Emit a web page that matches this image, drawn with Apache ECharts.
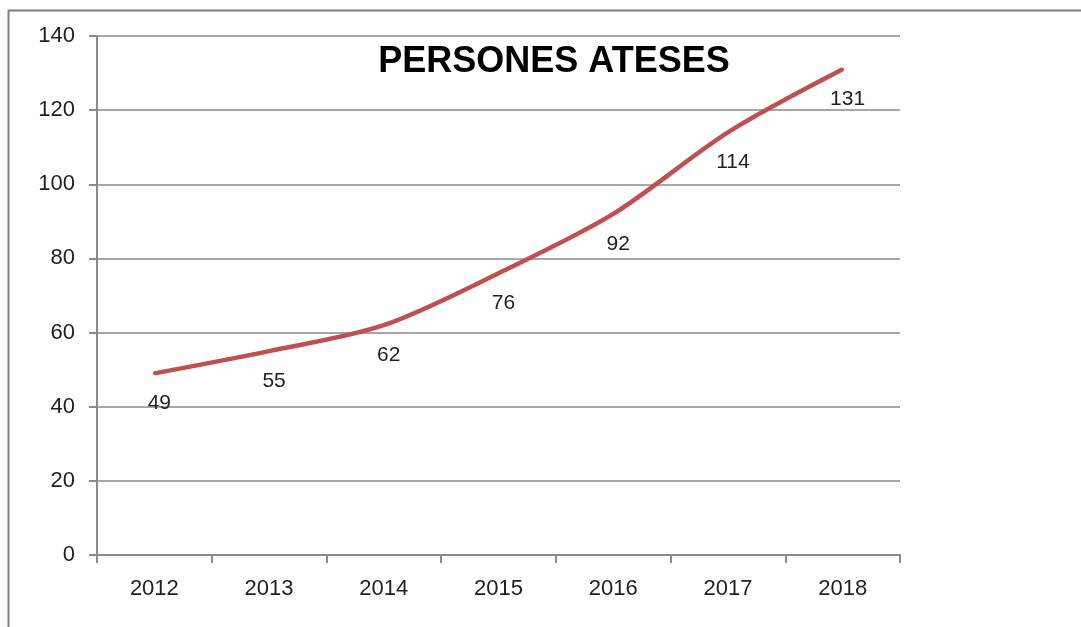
<!DOCTYPE html>
<html>
<head>
<meta charset="utf-8">
<script src="https://cdn.jsdelivr.net/npm/echarts@6/dist/echarts.min.js"></script>
<style>
  html, body { margin: 0; padding: 0; background: #fff; }
  #chart { width: 1081px; height: 627px; }
</style>
</head>
<body>
<div id="chart"></div>
<script>
// dades
const years = ['2012', '2013', '2014', '2015', '2016', '2017', '2018']
const persones = [49, 55, 62, 76, 92, 114, 131]
const yTicks = { min: 0, max: 140, interval: 20 }

const chart = echarts.init(document.getElementById('chart'))

const txt = '#1f1f1f'
const gridGray = '#8a8a8a'
const red = '#C0504D'
const font = '"Liberation Sans", Arial, sans-serif'

const option = {
  backgroundColor: '#fff',
  animation: false,
  title: {
    text: 'PERSONES ATESES',
    left: 549,
    top: 39,
    textAlign: 'center',
    textStyle: { fontFamily: font, fontWeight: 'bold', fontSize: 36, color: '#000' }
  },
  graphic: [
    { type: 'line', shape: { x1: 8, y1: 10.5, x2: 1081, y2: 10.5 }, style: { stroke: '#7f7f7f', lineWidth: 2 } },
    { type: 'line', shape: { x1: 8.5, y1: 10, x2: 8.5, y2: 627 }, style: { stroke: '#7f7f7f', lineWidth: 2 } }
  ],
  grid: { left: 97, right: 181, top: 36, bottom: 72 },
  xAxis: {
    type: 'category',
    data: years,
    boundaryGap: true,
    axisLine: { lineStyle: { color: gridGray, width: 2 } },
    axisTick: { show: true, length: 8, alignWithLabel: false, lineStyle: { color: gridGray, width: 2 } },
    axisLabel: { margin: 23, fontFamily: font, fontSize: 22, color: txt }
  },
  yAxis: {
    type: 'value',
    min: yTicks.min,
    max: yTicks.max,
    interval: yTicks.interval,
    axisLine: { show: true, lineStyle: { color: gridGray, width: 2 } },
    axisTick: { show: true, length: 8, lineStyle: { color: gridGray, width: 2 } },
    axisLabel: { margin: 22, fontFamily: font, fontSize: 22, color: txt },
    splitLine: { lineStyle: { color: gridGray, width: 1.5 } }
  },
  series: [
    {
      name: 'Persones ateses',
      type: 'line',
      data: persones,
      smooth: 0.3,
      symbol: 'circle',
      symbolSize: 3,
      showSymbol: true,
      itemStyle: { color: red },
      lineStyle: { color: red, width: 4.5 },
      label: {
        show: true,
        position: 'bottom',
        distance: 18,
        offset: [5, 0],
        fontFamily: font,
        fontSize: 21,
        color: txt
      }
    }
  ]
}

chart.setOption(option)
</script>
</body>
</html>
